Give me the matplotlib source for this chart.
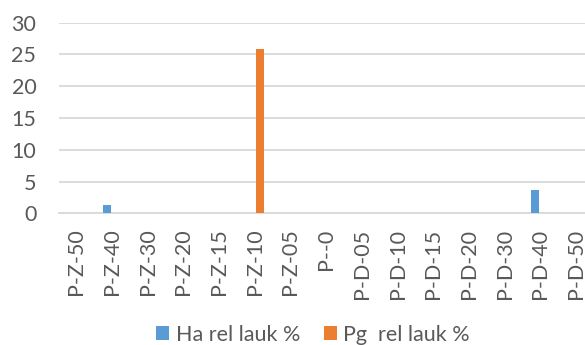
import matplotlib
matplotlib.use("Agg")
import matplotlib.pyplot as plt
import numpy as np

plt.rcParams['font.family'] = ['Lato', 'DejaVu Sans']
plt.rcParams['font.size'] = 15.5

# Categories and series values
categories = ['P-Z-50', 'P-Z-40', 'P-Z-30', 'P-Z-20', 'P-Z-15', 'P-Z-10', 'P-Z-05',
              'P--0', 'P-D-05', 'P-D-10', 'P-D-15', 'P-D-20', 'P-D-30', 'P-D-40', 'P-D-50']
ha_rel = [0, 1.3, 0, 0, 0, 0, 0, 0, 0, 0, 0, 0, 0, 3.6, 0]
pg_rel = [0, 0, 0, 0, 0, 25.8, 0, 0, 0, 0, 0, 0, 0, 0, 0]
series_names = ['Ha rel lauk %', 'Pg  rel lauk %']

text_col = '#595959'
grid_col = '#d9d9d9'
blue = '#5b9bd5'
orange = '#ed7d31'

fig = plt.figure(figsize=(5.85, 3.45), dpi=100)
ax = fig.add_axes([0.1, 0.3817, 0.915, 0.5525])

x = np.arange(len(categories))
bw = 0.224
off = 0.142
ax.bar(x - off, ha_rel, bw, color=blue, label=series_names[0], zorder=3)
ax.bar(x + off, pg_rel, bw, color=orange, label=series_names[1], zorder=3)

ax.set_xlim(-0.5, len(categories) - 0.5)
ax.set_ylim(0, 30)
ax.set_yticks(range(0, 31, 5))
ax.yaxis.grid(True, color=grid_col, linewidth=1.3, zorder=0)
ax.set_axisbelow(True)

for s in ['top', 'right', 'left']:
    ax.spines[s].set_visible(False)
ax.spines['bottom'].set_color(grid_col)
ax.spines['bottom'].set_linewidth(1.3)

ax.set_xticks(x)
ax.set_xticklabels(categories, rotation=90, va='top')
ax.tick_params(axis='x', length=0, pad=11, colors=text_col)
ax.tick_params(axis='y', length=0, pad=16, colors=text_col)

fig.legend(loc='center', bbox_to_anchor=(0.535, 0.03), ncol=2, frameon=False,
           handlelength=0.6, handleheight=0.6, handletextpad=0.3,
           columnspacing=1.1, labelcolor=text_col)

fig.savefig('out.png', dpi=100)
